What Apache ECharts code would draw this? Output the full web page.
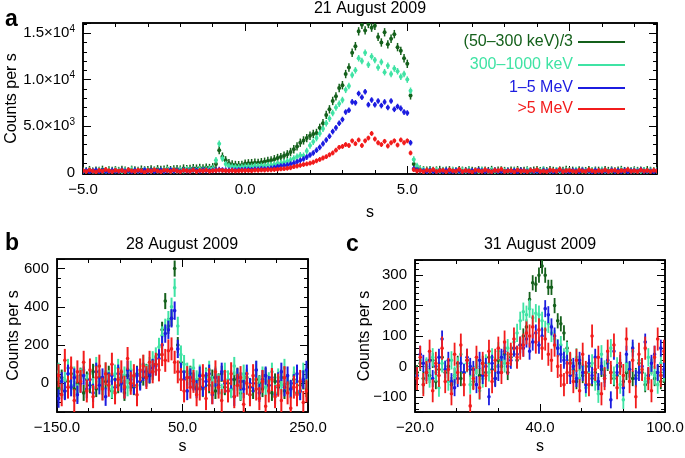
<!DOCTYPE html>
<html>
<head>
<meta charset="utf-8">
<script src="https://cdn.jsdelivr.net/npm/echarts@6/dist/echarts.min.js"></script>
<style>
  html, body { margin: 0; padding: 0; background: #fff; }
  #chart { width: 685px; height: 458px; }
</style>
</head>
<body>
<div id="chart"></div>
<script>
// channel names and colours (same order in every panel)
const NAMES = ['(50–300 keV)/3', '300–1000 keV', '1–5 MeV', '>5 MeV']
const COLORS = ['#14601b', '#3fe3a4', '#1c1ce0', '#f21c1c']

// panel a: 21 August 2009, bins start at -5.0 s, 0.1 s wide
const A_T0 = -5.0
const A_DT = 0.1
const A_GREEN = [
  180, 120, 250, 90, 200, 160, 280, 140, 210, 170,
  230, 150, 260, 190, 120, 280, 210, 170, 300, 220,
  250, 310, 200, 340, 260, 290, 380, 240, 330, 360,
  300, 420, 350, 390, 460, 410, 480, 440, 520, 470,
  560, 900, 2400, 1700, 1300, 1000, 850, 800, 780, 800,
  950, 980, 1000, 1050, 1030, 1100, 1150, 1230, 1300, 1420,
  1550, 1650, 1800, 1950, 2200, 2500, 2800, 3200, 3450, 3700,
  3950, 4150, 4250, 4800, 5300, 6200, 6800, 7700, 8200, 9100,
  9400, 10600, 11300, 12900, 13600, 15200, 15900, 15300, 16000, 15600,
  15800, 14600, 14000, 15100, 13800, 14400, 14900, 13500, 13100, 12300,
  11700, 8300,
  900, 450, 300, 220, 180, 240, 150, 200, 260, 130,
  190, 230, 160, 120, 250, 180, 140, 210, 170, 100,
  230, 160, 190, 140, 260, 120, 180, 220, 150, 90,
  200, 170, 240, 130, 160, 210, 110, 180, 250, 140,
  190, 120, 230, 160, 100, 200, 150, 270, 130, 180,
  90, 220, 160, 140, 240, 110, 190, 170, 120, 230,
  150, 200, 100, 180, 260, 140, 170, 110, 210, 150,
  190, 130, 240, 160, 120, 200
]
const A_CYAN = [
  150, 90, 210, 130, 60, 240, 170, 110, 200, 140,
  260, 180, 90, 220, 150, 300, 130, 200, 170, 250,
  190, 120, 280, 210, 160, 240, 300, 180, 260, 220,
  290, 230, 340, 270, 310, 250, 360, 300, 330, 380,
  420, 1300, 3100, 1500, 900, 700, 620, 580, 560, 590,
  600, 640, 620, 680, 660, 710, 700, 760, 800, 850,
  950, 1000, 1100, 1200, 1350, 1500, 1700, 1850, 1800, 2300,
  2900, 3300, 3700, 4200, 4700, 5300, 5800, 6400, 7000, 7400,
  7800, 8900, 9300, 10500, 11000, 12300, 12000, 12900, 11600, 12500,
  12100, 11300, 11900, 10800, 11500, 10600, 11200, 10900, 10300, 10600,
  10000, 8800,
  1400, 700, 350, 250, 180, 300, 140, 220, 90, 260,
  170, 120, 240, 190, 80, 210, 150, 280, 130, 200,
  100, 250, 170, 60, 230, 180, 120, 290, 150, 210,
  90, 190, 240, 140, 110, 260, 170, 80, 220, 150,
  310, 130, 190, 100, 240, 160, 70, 210, 180, 130,
  250, 110, 200, 150, 90, 230, 170, 120, 280, 140,
  60, 210, 190, 110, 250, 130, 170, 90, 220, 160,
  120, 240, 100, 180, 140, 200
]
const A_BLUE = [
  120, 200, 80, 160, 230, 100, 180, 140, 60, 210,
  150, 90, 240, 130, 190, 70, 220, 160, 110, 250,
  140, 200, 90, 180, 230, 120, 170, 260, 150, 210,
  110, 240, 180, 140, 270, 200, 160, 250, 220, 190,
  210, 250, 300, 260, 240, 220, 250, 230, 260, 280,
  300, 320, 290, 350, 340, 380, 360, 400, 450, 520,
  620, 680, 740, 800, 900, 1000, 1150, 1300, 1450, 1650,
  1880, 2100, 2400, 2700, 3100, 3500, 3900, 4400, 4800, 5300,
  5700, 6500, 6700, 7600, 7500, 8500, 8100, 8700, 7300, 7800,
  7300, 7700, 7200, 7600, 7000, 7700, 6800, 7100, 6900, 6500,
  6400, 3200,
  400, 250, 200, 150, 90, 220, 130, 60, 190, 110,
  240, 140, 80, 200, 170, 50, 210, 120, 180, 90,
  260, 150, 100, 190, 70, 230, 130, 160, 80, 210,
  120, 180, 60, 240, 140, 100, 200, 110, 170, 50,
  220, 130, 190, 80, 150, 250, 100, 160, 70, 200,
  140, 90, 230, 120, 180, 60, 210, 150, 110, 190,
  80, 240, 130, 170, 100, 220, 60, 150, 190, 120,
  280, 90, 160, 130, 70, 180
]
const A_RED = [
  200, 90, 260, 150, 40, 230, 120, 310, 180, 70,
  240, 140, 210, 60, 280, 170, 100, 250, 190, 30,
  220, 130, 290, 160, 80, 240, 200, 110, 270, 150,
  60, 230, 180, 120, 260, 90, 210, 160, 240, 130,
  180, 200, 260, 220, 190, 170, 210, 160, 180, 200,
  200, 220, 180, 240, 230, 260, 250, 290, 280, 310,
  340, 380, 400, 450, 500, 620, 680, 760, 850, 920,
  1000, 1100, 1250, 1400, 1550, 1700, 1900, 2100, 2400, 2700,
  2800, 3000, 2900, 3400, 3100, 3500, 2900, 3400, 3700, 4200,
  3600, 3200, 3000, 3350, 2850, 3200, 3400, 2950, 3500, 3200,
  3400, 2100,
  300, 150, 220, 80, 260, 140, 310, 100, 190, 240,
  60, 280, 170, 120, 330, 90, 210, 160, 40, 250,
  180, 110, 290, 140, 70, 230, 190, 350, 100, 160,
  220, 50, 270, 130, 190, 80, 240, 170, 300, 110,
  150, 60, 260, 200, 120, 340, 90, 180, 230, 140,
  70, 250, 160, 110, 290, 190, 80, 220, 130, 270,
  100, 170, 240, 60, 200, 150, 310, 120, 180, 90,
  260, 140, 210, 100, 230, 160
]
const A_ERR = [450, 350, 300, 260]

// panel b: 28 August 2009, bins start at -147.5 s, 5 s wide
const B_T0 = -147.5
const B_DT = 5
const B_GREEN = [
  -20, 30, -40, 10, 50, -30, 0, 40, -50, 20,
  -10, 60, -30, 30, -20, 10, 50, -40, 20, -10,
  30, -50, 40, 0, -20, 50, 10, 30, 60, 40,
  60, 100, 150, 280, 430, 300, 340, 600, 200, 110,
  60, 30, 50, 10, -20,
  20, -30, 40, -10, 30, -40, 10, 50, -20, 0,
  -30, 20, 40, -50, 10, 30, -20, -40, 20, 0,
  -30, 40, -10, -50, 10, -20, 30, -40, 0, -30,
  20, -50, -10, 10, -30
]
const B_CYAN = [
  60, -30, 20, 80, -10, 40, -50, 30, 70, 0,
  50, -20, 90, 10, -40, 60, 20, -30, 50, 80,
  10, 40, -20, 70, 30, -10, 60, 100, 50, 90,
  120, 140, 190, 250, 290, 330, 400, 500, 300, 150,
  100, 60, 40, 80, 20,
  50, -20, 30, 70, -10, 40, 0, -50, 60, 20,
  -30, 90, 10, -40, 50, 30, -60, 20, 70, -10,
  40, -20, 10, 60, -50, 30, -10, 80, 0, -30,
  40, 10, -40, 60, 20
]
const B_BLUE = [
  -80, 10, -40, 50, -20, 30, -60, 0, 40, -30,
  20, -50, 60, -10, 30, -70, 10, 40, -20, 50,
  0, -30, 70, 20, -10, 40, 10, 60, 30, 50,
  80, 90, 130, 200, 260, 280, 340, 380, 180, 60,
  20, -40, 30, 10, -30,
  40, -20, 10, 50, -60, 30, -10, 60, 0, -40,
  20, -70, 30, 10, -30, 50, -20, 0, 70, -50,
  20, 40, -10, 30, -60, 10, 60, -20, 40, -30,
  0, 50, -40, 20, 70
]
const B_RED = [
  40, -60, 120, -20, 80, -90, 60, 10, 110, -40,
  70, -70, 30, 90, -30, 50, -10, 100, -50, 20,
  60, -20, 130, 0, 40, -60, 70, 90, 30, 110,
  60, 100, 70, 150, 120, 170, 180, 110, 60, 20,
  -40, 30, -20, 10, -60,
  -30, 40, -80, 20, -50, 60, -20, -90, 10, -40,
  50, -70, -10, 30, -110, 0, -60, 40, -30, -80,
  10, -120, -40, 20, -70, -10, -90, 30, -50, -130,
  -20, -60, 10, -100, -40
]
const B_ERR = [42, 48, 48, 60]

// panel c: 31 August 2009, bins start at -19 s, 1.5 s wide
const C_T0 = -19
const C_DT = 1.5
const C_GREEN = [
  -20, 10, -40, 0, -30, 20, -50, -10, 30, -20,
  0, -60, -30, 10, -40, -20, 20, -10, -50, 0,
  -30, 10, -20, 30, -10, -40, 20, 0, 40, -20,
  30, 60, 20, 70,
  100, 130, 220, 275, 270, 300, 330, 300, 260, 260,
  200, 150, 140, 110, 60, 20,
  -10, -50, 10, -30, -20, 0, -40, -20, -60, -10,
  -30, 10, -20, -40, -30, 0, -50, -20, -10, -40,
  -30, 10, -20, -60, -30, 0, -40, -20, -50, -30
]
const C_CYAN = [
  -30, 20, -60, 0, -40, 30, -20, -70, 10, -10,
  -50, 20, -30, 0, 40, -20, 10, -60, -30, 0,
  -80, -40, 10, -20, 30, 0, 50, 20, 10, 60,
  40, 80, 110, 150,
  180, 170, 190, 160, 175, 170, 150, 120, 140, 110,
  90, 60, 70, 30, 50, 10,
  -20, 30, -40, 0, -70, -20, 10, -50, -90, 40,
  -10, 20, 60, -30, 0, -60, -110, 10, -20, 50,
  -40, 20, -10, -50, 30, 0, -30, -60, 10, -20
]
const C_BLUE = [
  -30, 40, 10, -20, 20, -40, 0, 30, 90, -10,
  20, -50, -70, -40, 10, -20, 30, 0, -10, -60,
  20, -30, 0, -100, 10, -40, -20, 30, 50, 0,
  20, 60, 40, 70,
  60, 90, 50, 80, 110, 70, 100, 190, 170, 130,
  100, 60, 40, 20, 10, -30,
  0, -40, 20, -20, -60, 10, -30, 30, -50, 0,
  -40, 20, -110, 50, -20, 10, -70, 40, -10, 60,
  -40, -20, 0, 80, -30, 10, 40, -20, 60, -10
]
const C_RED = [
  -40, 30, -60, -20, 50, -80, 10, -30, 60, -50,
  -10, -90, 40, -20, 70, -60, 20, -130, -40, 30,
  -70, 10, -30, 50, -50, 20, 60, -20, 80, 10,
  40, 90, 30, 60,
  70, 110, 100, 130, 80, 120, 60, 90, 40, 20,
  70, 0, -30, -60, -20, 10,
  -50, 20, -80, 40, -20, -60, 100, -10, 30, -90,
  -40, 50, -20, 70, -70, 10, -30, 90, -50, 20,
  -100, 40, -10, 60, -40, -80, 30, 90, -30, 50
]
const C_ERR = [25, 30, 28, 38]

const FONT = '"Liberation Sans", Arial, Helvetica, sans-serif'
const MINUS = '\u2212'

function fmt1(v) {
  return (v < 0 ? MINUS : '') + Math.abs(v).toFixed(1)
}

function onStep(v, step) {
  return Math.abs(v / step - Math.round(v / step)) < 1e-6
}

// one custom series: a dot with a vertical error bar for every bin
function errSeries(g, k, t0, dt, values, err, barW, r) {
  const color = COLORS[k]
  return {
    name: NAMES[k],
    type: 'custom',
    xAxisIndex: 2 * g,
    yAxisIndex: 2 * g,
    clip: true,
    itemStyle: { color },
    encode: { x: 0, y: 1 },
    data: values.map((v, i) => [t0 + i * dt, v]),
    renderItem(params, api) {
      const t = api.value(0)
      const v = api.value(1)
      const p = api.coord([t, v])
      const hi = api.coord([t, v + err])
      const lo = api.coord([t, v - err])
      return {
        type: 'group',
        children: [
          { type: 'line', shape: { x1: p[0], y1: hi[1], x2: p[0], y2: lo[1] }, style: { stroke: color, lineWidth: barW } },
          { type: 'circle', shape: { cx: p[0], cy: p[1], r }, style: { fill: color } },
        ],
      }
    },
  }
}

const tickStyle = { show: true, inside: true, length: 8, lineStyle: { color: '#000', width: 1 } }
const lineStyle = { show: true, onZero: false, lineStyle: { color: '#000', width: 1.5 } }
const labelBase = { color: '#000', fontSize: 15, fontFamily: FONT }

// main axis (with labels) plus a mirror on the opposite side (ticks only)
function axes(g, pos, opt) {
  const mirror = { bottom: 'top', top: 'bottom', left: 'right', right: 'left' }[pos]
  const base = {
    type: 'value',
    gridIndex: g,
    min: opt.min,
    max: opt.max,
    interval: opt.interval,
    minInterval: opt.step,
    maxInterval: opt.step,
    splitLine: { show: false },
    axisLine: lineStyle,
    axisTick: tickStyle,
    minorTick: { show: true, splitNumber: opt.minor, length: 4, lineStyle: { color: '#000', width: 1 } },
  }
  return [
    Object.assign({}, base, {
      position: pos,
      axisLabel: Object.assign({}, labelBase, { margin: 8, formatter: opt.fmt, rich: opt.rich }),
      name: opt.name,
      nameLocation: 'middle',
      nameGap: opt.nameGap,
      nameMoveOverlap: false,
      nameTextStyle: { color: '#000', fontSize: 16, fontFamily: FONT },
    }),
    Object.assign({}, base, { position: mirror, axisLabel: { show: false } }),
  ]
}

const expRich = {
  m: { fontSize: 15, fontFamily: FONT, color: '#000' },
  e: { fontSize: 10, fontFamily: FONT, color: '#000', verticalAlign: 'top', padding: [0, 0, 8, 0] },
}
const A_YLABELS = { 0: '0', 5000: '{m|5.0×10}{e|3}', 10000: '{m|1.0×10}{e|4}', 15000: '{m|1.5×10}{e|4}' }

const xAxes = [].concat(
  axes(0, 'bottom', { min: -5, max: 12.7, interval: 5, minor: 5, name: 's', nameGap: 31,
    fmt: v => (onStep(v, 5) ? fmt1(v) : '') }),
  axes(1, 'bottom', { min: -150, max: 250, interval: 200, minor: 4, name: 's', nameGap: 27, fmt: fmt1 }),
  axes(2, 'bottom', { min: -20, max: 100, interval: 60, minor: 3, name: 's', nameGap: 27, fmt: fmt1 })
)
const yAxes = [].concat(
  axes(0, 'left', { min: -170, max: 16100, step: 5000, minor: 5, name: 'Counts per s', nameGap: 63,
    fmt: v => A_YLABELS[Math.round(v)] || '', rich: expRich }),
  axes(1, 'left', { min: -150, max: 650, step: 200, minor: 4, name: 'Counts per s', nameGap: 35,
    fmt: v => (onStep(v, 200) ? String(v) : '') }),
  axes(2, 'left', { min: -150, max: 350, step: 100, minor: 5, name: 'Counts per s', nameGap: 42,
    fmt: v => (onStep(v, 100) ? (v < 0 ? MINUS : '') + Math.abs(v) : '') })
)

const series = []
;[A_GREEN, A_CYAN, A_BLUE, A_RED].forEach((vals, k) => series.push(errSeries(0, k, A_T0, A_DT, vals, A_ERR[k], 1.5, 2)))
;[B_GREEN, B_CYAN, B_BLUE, B_RED].forEach((vals, k) => series.push(errSeries(1, k, B_T0, B_DT, vals, B_ERR[k], 2, 1.8)))
;[C_GREEN, C_CYAN, C_BLUE, C_RED].forEach((vals, k) => series.push(errSeries(2, k, C_T0, C_DT, vals, C_ERR[k], 1.8, 1.8)))

const LEGEND_TOP = [34, 57, 80, 101]
const legends = NAMES.map((n, k) => ({
  data: [{ name: n, textStyle: { color: COLORS[k] } }],
  right: 60,
  top: LEGEND_TOP[k],
  padding: 0,
  align: 'right',
  icon: 'rect',
  itemWidth: 47,
  itemHeight: 2,
  selectedMode: false,
  textStyle: { fontSize: 16, fontFamily: FONT },
}))

function label(text, x, y, size, weight, align) {
  return {
    type: 'text', x, y,
    style: { text, fill: '#000', font: `${weight} ${size}px ${FONT}`, textAlign: align, textVerticalAlign: 'middle' },
  }
}

const chart = echarts.init(document.getElementById('chart'), null, { renderer: 'canvas' })
chart.setOption({
  animation: false,
  backgroundColor: '#fff',
  grid: [
    { left: 83, top: 23, width: 574, height: 151, show: true, borderColor: '#000', borderWidth: 1.5, outerBoundsMode: 'none' },
    { left: 57, top: 259, width: 251, height: 153, show: true, borderColor: '#000', borderWidth: 1.5, outerBoundsMode: 'none' },
    { left: 415, top: 260, width: 250, height: 152, show: true, borderColor: '#000', borderWidth: 1.5, outerBoundsMode: 'none' },
  ],
  xAxis: xAxes,
  yAxis: yAxes,
  legend: legends,
  series,
  graphic: [
    label('21 August 2009', 370, 9, 16, 'normal', 'center'),
    label('28 August 2009', 182, 245, 16, 'normal', 'center'),
    label('31 August 2009', 540, 245, 16, 'normal', 'center'),
    label('a', 5, 20, 23, 'bold', 'left'),
    label('b', 5, 244, 23, 'bold', 'left'),
    label('c', 346, 245, 23, 'bold', 'left'),
  ],
})
</script>
</body>
</html>
